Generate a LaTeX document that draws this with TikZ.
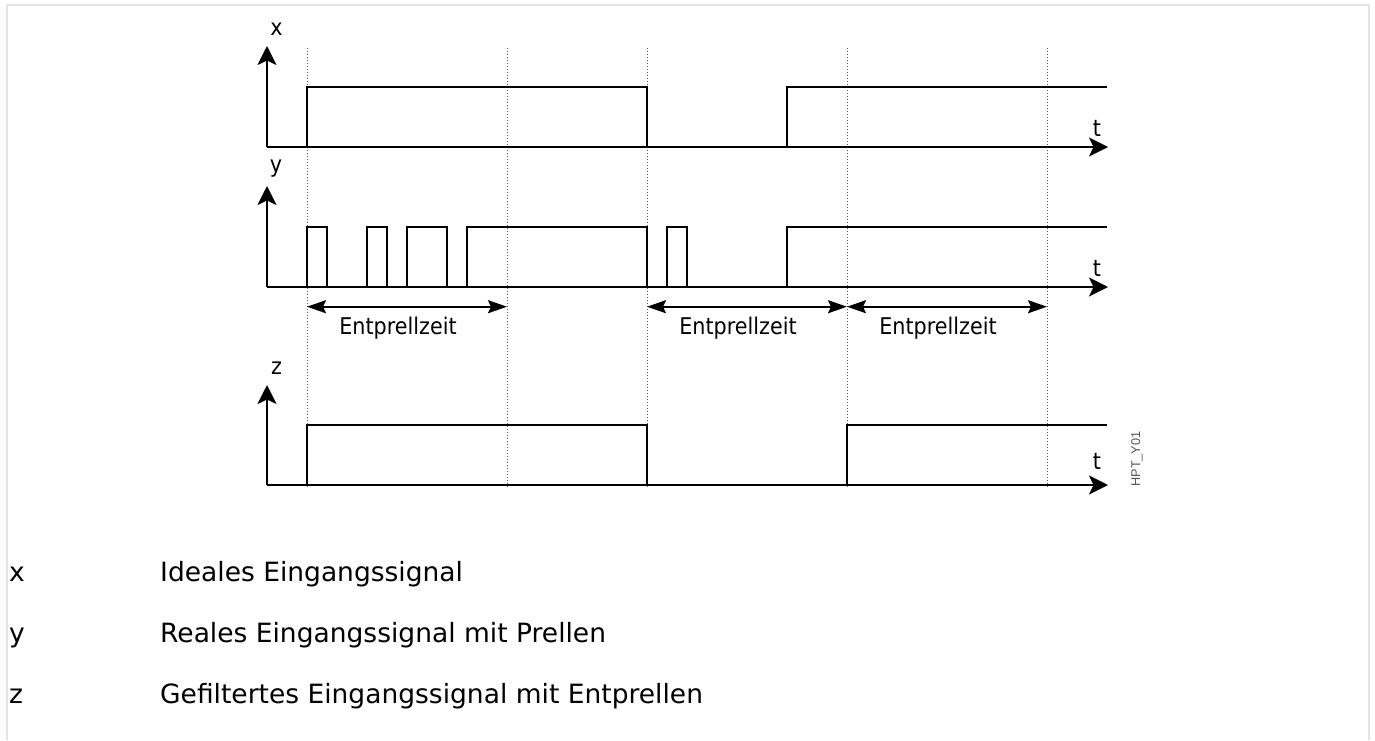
\documentclass[tikz,border=0pt]{standalone}
\usepackage{fontspec}
\setmainfont{DejaVu Sans}
\newfontfamily\condfont[FakeStretch=0.9]{DejaVu Sans}
\newfontfamily\hptfont{Liberation Sans}
\usetikzlibrary{arrows.meta}
\definecolor{framecol}{HTML}{E4E4E4}
\definecolor{gridcol}{HTML}{555555}
\definecolor{hptcol}{HTML}{555555}
\begin{document}
\begin{tikzpicture}[x=1pt,y=-1pt,
  sig/.style={line width=2pt, black, line join=miter},
  axisline/.style={line width=2pt, -{Stealth[length=19pt,width=19pt,inset=4.5pt]}},
  dimline/.style={line width=2pt, {Stealth[length=19pt,width=13pt,inset=3pt]}-{Stealth[length=19pt,width=13pt,inset=3pt]}},
  gridline/.style={gridcol, line width=1pt, dash pattern=on 1pt off 2pt},
  axlbl/.style={font=\condfont\fontsize{23}{23}\selectfont, inner sep=0pt, anchor=base},
  dimlbl/.style={font=\condfont\fontsize{23}{23}\selectfont, inner sep=0pt, anchor=base},
  legend/.style={font=\fontsize{26.5}{26.5}\selectfont, inner sep=0pt, anchor=base west}]
\useasboundingbox (0,0) rectangle (1375,740);
% frame
\draw[framecol, line width=2pt] (7,740) -- (7,4.5) -- (1369,4.5) -- (1369,740);
% dotted time markers
\foreach \gx in {307,507,647,847,1047}
  \draw[gridline] (\gx,48) -- (\gx,487);
% coordinates
\coordinate (ox) at (267,147); \coordinate (tx) at (267,46); \coordinate (ex) at (1108,147);
\coordinate (oy) at (267,287); \coordinate (ty) at (267,186); \coordinate (ey) at (1108,287);
\coordinate (oz) at (267,485); \coordinate (tz) at (267,385); \coordinate (ez) at (1108,485);
% axes
\draw[axisline] (ox) -- (tx);
\draw[axisline] (ox) -- (ex);
\draw[axisline] (oy) -- (ty);
\draw[axisline] (oy) -- (ey);
\draw[axisline] (oz) -- (tz);
\draw[axisline] (oz) -- (ez);
% signals
\draw[sig] (307,147) -- (307,87) -- (647,87) -- (647,147) (787,147) -- (787,87) -- (1107,87);
\draw[sig] (307,287) -- (307,227) -- (327,227) -- (327,287)
  (367,287) -- (367,227) -- (387,227) -- (387,287)
  (407,287) -- (407,227) -- (447,227) -- (447,287)
  (467,287) -- (467,227) -- (647,227) -- (647,287)
  (667,287) -- (667,227) -- (687,227) -- (687,287)
  (787,287) -- (787,227) -- (1107,227);
\draw[sig] (307,485) -- (307,425) -- (647,425) -- (647,485) (847,485) -- (847,425) -- (1107,425);
% axis labels
\node[axlbl] (lx) at (276.5,35) {x};
\node[axlbl] (ly) at (276,172) {y};
\node[axlbl] (lz) at (276.5,374) {z};
\node[axlbl] (t1) at (1097,136) {t};
\node[axlbl] (t2) at (1097,276) {t};
\node[axlbl] (t3) at (1097,469) {t};
% debounce intervals
\coordinate (d1a) at (307,306.7); \coordinate (d1b) at (507,306.7);
\coordinate (d2a) at (647,306.7); \coordinate (d2b) at (847,306.7);
\coordinate (d3a) at (847,306.7); \coordinate (d3b) at (1047,306.7);
\draw[dimline] (d1a) -- (d1b);
\draw[dimline] (d2a) -- (d2b);
\draw[dimline] (d3a) -- (d3b);
\node[dimlbl] (e1) at (398,334) {Entprellzeit};
\node[dimlbl] (e2) at (738,334) {Entprellzeit};
\node[dimlbl] (e3) at (938,334) {Entprellzeit};
% figure id
\node[font=\hptfont\fontsize{12.7}{12.7}\selectfont, text=hptcol, rotate=90, inner sep=0pt] (hpt) at (1137,459) {HPT\_Y01};
% legend
\node[legend] (kx) at (9,581) {x};
\node[legend] (dx) at (160,581) {Ideales Eingangssignal};
\node[legend] (ky) at (9,642) {y};
\node[legend] (dy) at (160,642) {Reales Eingangssignal mit Prellen};
\node[legend] (kz) at (9,703) {z};
\node[legend] (dz) at (160,703) {Gefiltertes Eingangssignal mit Entprellen};
\end{tikzpicture}
\end{document}
